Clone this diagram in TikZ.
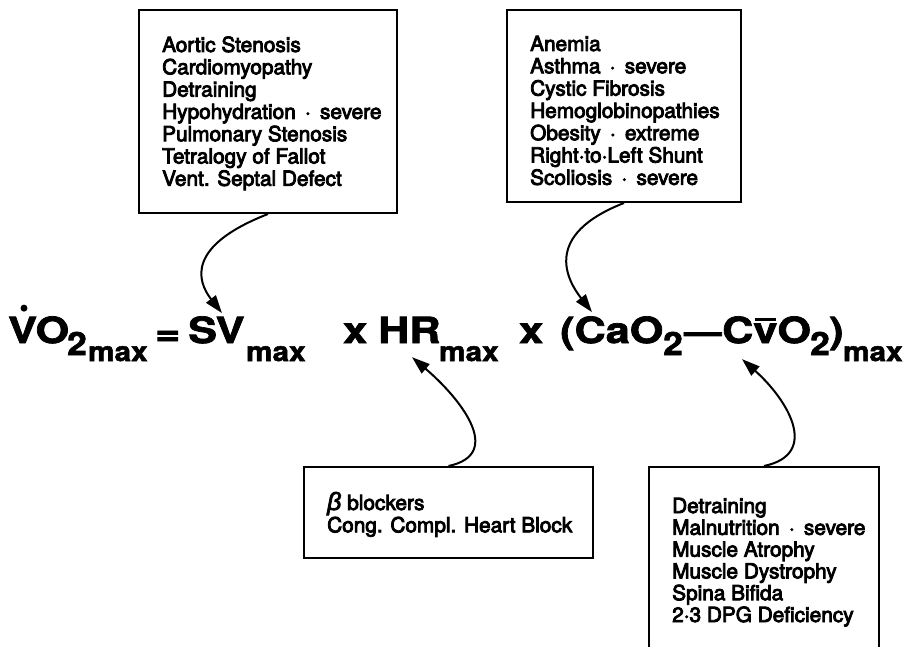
\documentclass[tikz,border=0pt]{standalone}
\usepackage{fontspec}
\setmainfont{TeX Gyre Heros}
\newfontfamily\eqmain{TeX Gyre Heros}[FakeStretch=1.2,FakeBold=2]
\newfontfamily\eqsub{TeX Gyre Heros}[FakeStretch=1.1,FakeBold=2]
\newfontfamily\listfont{TeX Gyre Heros}[FakeBold=4]
\newfontfamily\betafont{Liberation Sans}[FakeBold=3]
\usetikzlibrary{arrows.meta}
\begin{document}
\begin{tikzpicture}[x=1pt,y=-1pt,
  box/.style={draw, line width=2pt, inner sep=0pt},
  listtext/.style={inner sep=0pt, anchor=base west, font=\listfont\fontsize{20.8}{22.3}\selectfont},
  eqm/.style={inner sep=0pt, anchor=base west, font=\eqmain\bfseries\fontsize{36}{36}\selectfont},
  eqs/.style={inner sep=0pt, anchor=base west, font=\eqsub\bfseries\fontsize{27}{27}\selectfont},
  eqd/.style={inner sep=0pt, anchor=base west, font=\eqsub\bfseries\fontsize{32}{32}\selectfont},
  arr/.style={line width=2pt, -{Triangle[length=18pt,width=12pt]}}]
\useasboundingbox (0,0) rectangle (905,647);
% boxes
\node[box, minimum width=258pt, minimum height=203pt] (tlbox) at (268,111.5) {};
\node[box, minimum width=234pt, minimum height=192pt] (trbox) at (624,106) {};
\node[box, minimum width=289pt, minimum height=91pt] (blbox) at (448.5,512.5) {};
\node[box, minimum width=230pt, minimum height=213pt] (brbox) at (764,573.5) {};
% texts
\node[listtext] (tltext) at (162,52) {\parbox[t]{300pt}{Aortic Stenosis\\Cardiomyopathy\\Detraining\\Hypohydration \,·\, severe\\Pulmonary Stenosis\\Tetralogy of Fallot\\Vent. Septal Defect}};
\node[listtext] (trtext) at (530,51) {\parbox[t]{300pt}{Anemia\\Asthma \,·\, severe\\Cystic Fibrosis\\Hemoglobinopathies\\Obesity \,·\, extreme\\Right·to·Left Shunt\\Scoliosis \,·\, severe}};
\node[listtext] (bltext) at (327,510) {\parbox[t]{300pt}{{\betafont\itshape\fontsize{25}{22.3}\selectfont β} blockers\\Cong. Compl. Heart Block}};
\node[listtext] (brtext) at (672,513) {\parbox[t]{300pt}{\fontsize{20.8}{21.8}\selectfont Detraining\\Malnutrition \,·\, severe\\Muscle Atrophy\\Muscle Dystrophy\\Spina Bifida\\2·3 DPG Deficiency}};
% equation
\node[eqm] (vo) at (8,343) {VO};
\fill ([xshift=16pt,yshift=8pt]vo.north west) circle (3.5pt);
\node[eqd] (sub1) at (67,355) {2};
\node[eqs] (max1) at (88,361) {max};
\node[eqm] (eqsign) at (155,345) {=};
\node[eqm] (sv) at (188,343) {SV};
\node[eqs] (max2) at (246,361) {max};
\node[eqm] (x1) at (343,343) {x};
\node[eqm] (hr) at (378,343) {HR};
\node[eqs] (max3) at (439,361) {max};
\node[eqm] (x2) at (519,343) {x};
\node[eqm] (cao) at (560,343) {(CaO};
\node[eqd] (sub2) at (663,355) {2};
\node[inner sep=0pt, anchor=base west, font=\eqsub\bfseries\fontsize{34}{34}\selectfont] (dash) at (684,343) {—};
\node[eqm] (cvo) at (722,343) {C\rlap{\hskip0.05em\rule[0.6em]{0.58em}{0.09em}}vO};
\node[eqd] (sub3) at (810,355) {2};
\node[eqm] (rp) at (829,343) {)};
\node[eqs] (max4) at (843,361) {max};
% connectors
\draw[arr] (tlbox.south) .. controls +(-82,32) and +(-25,-32) .. ([xshift=34pt,yshift=3pt]sv.north west);
\draw[arr] (trbox.south) .. controls +(-82,32) and +(-25,-32) .. ([xshift=32pt,yshift=4pt]cao.north west);
\draw[arr] (blbox.north) .. controls +(57,-12) and +(47,40) .. ([xshift=34pt,yshift=-14pt]hr.south west);
\draw[arr] (brbox.north) .. controls +(57,-12) and +(45,40) .. ([xshift=20pt,yshift=-15.5pt]cvo.south west);
\end{tikzpicture}
\end{document}
